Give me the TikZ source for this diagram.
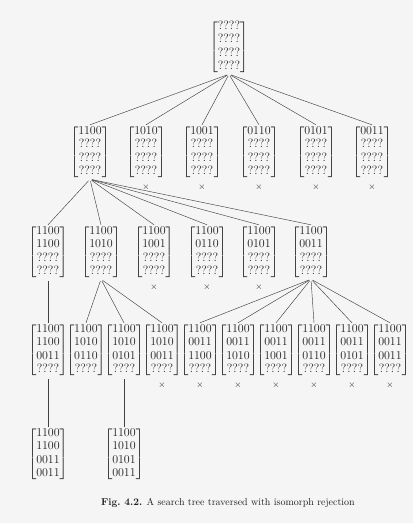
\documentclass[tikz,border=0pt]{standalone}
\usepackage{amsmath}
\usepackage{tikz}
\usetikzlibrary{positioning}
\colorlet{ink}{black!88}
\colorlet{paper}{black!4}
\tikzset{
  mat/.style={inner sep=0pt, text=ink, font=\fontsize{12.5}{13.5}\selectfont},
  edge/.style={draw=ink!85, line width=0.45pt, shorten <=2pt},
  cut/.style={font=\small, text=ink, inner sep=0pt},
  caption/.style={font=\fontsize{10}{12}\selectfont, text=ink}
}
% a 4x4 partial incidence matrix
\newcommand{\Mat}[4]{$\begin{bmatrix}#1\\#2\\#3\\#4\end{bmatrix}$}
\newcommand{\Q}{????}

\begin{document}
\begin{tikzpicture}[x=1pt,y=-1pt]
  \fill[paper] (0,0) rectangle (413,523);
  \useasboundingbox (0,0) rectangle (413,523);

  % root
  \node[mat] (r) at (229,47) {\Mat{\Q}{\Q}{\Q}{\Q}};

  % first rows
  \node[mat] (a1) at (90,152)  {\Mat{1100}{\Q}{\Q}{\Q}};
  \node[mat] (a2) at (146,152) {\Mat{1010}{\Q}{\Q}{\Q}};
  \node[mat] (a3) at (202,152) {\Mat{1001}{\Q}{\Q}{\Q}};
  \node[mat] (a4) at (259,152) {\Mat{0110}{\Q}{\Q}{\Q}};
  \node[mat] (a5) at (316,152) {\Mat{0101}{\Q}{\Q}{\Q}};
  \node[mat] (a6) at (372,152) {\Mat{0011}{\Q}{\Q}{\Q}};
  \node[cut, below=5pt of a2] (x2) {$\times$};
  \node[cut, below=5pt of a3] (x3) {$\times$};
  \node[cut, below=5pt of a4] (x4) {$\times$};
  \node[cut, below=5pt of a5] (x5) {$\times$};
  \node[cut, below=5pt of a6] (x6) {$\times$};

  % second rows
  \node[mat] (b1) at (48,252)  {\Mat{1100}{1100}{\Q}{\Q}};
  \node[mat] (b2) at (101,252) {\Mat{1100}{1010}{\Q}{\Q}};
  \node[mat] (b3) at (154,252) {\Mat{1100}{1001}{\Q}{\Q}};
  \node[mat] (b4) at (207,252) {\Mat{1100}{0110}{\Q}{\Q}};
  \node[mat] (b5) at (259,252) {\Mat{1100}{0101}{\Q}{\Q}};
  \node[mat] (b6) at (311,252) {\Mat{1100}{0011}{\Q}{\Q}};
  \node[cut, below=5pt of b3] (y3) {$\times$};
  \node[cut, below=5pt of b4] (y4) {$\times$};
  \node[cut, below=5pt of b5] (y5) {$\times$};

  % third rows
  \node[mat] (c1)  at (48,350)  {\Mat{1100}{1100}{0011}{\Q}};
  \node[mat] (c2)  at (86,350)  {\Mat{1100}{1010}{0110}{\Q}};
  \node[mat] (c3)  at (124,350) {\Mat{1100}{1010}{0101}{\Q}};
  \node[mat] (c4)  at (162,350) {\Mat{1100}{1010}{0011}{\Q}};
  \node[mat] (c5)  at (200,350) {\Mat{1100}{0011}{1100}{\Q}};
  \node[mat] (c6)  at (238,350) {\Mat{1100}{0011}{1010}{\Q}};
  \node[mat] (c7)  at (276,350) {\Mat{1100}{0011}{1001}{\Q}};
  \node[mat] (c8)  at (314,350) {\Mat{1100}{0011}{0110}{\Q}};
  \node[mat] (c9)  at (352,350) {\Mat{1100}{0011}{0101}{\Q}};
  \node[mat] (c10) at (390,350) {\Mat{1100}{0011}{0011}{\Q}};
  \node[cut, below=5pt of c4]  (z4)  {$\times$};
  \node[cut, below=5pt of c5]  (z5)  {$\times$};
  \node[cut, below=5pt of c6]  (z6)  {$\times$};
  \node[cut, below=5pt of c7]  (z7)  {$\times$};
  \node[cut, below=5pt of c8]  (z8)  {$\times$};
  \node[cut, below=5pt of c9]  (z9)  {$\times$};
  \node[cut, below=5pt of c10] (z10) {$\times$};

  % complete designs
  \node[mat] (d1) at (48,454)  {\Mat{1100}{1100}{0011}{0011}};
  \node[mat] (d2) at (124,454) {\Mat{1100}{1010}{0101}{0011}};

  \draw[edge] (r.south) -- (a1.north);
  \draw[edge] (r.south) -- (a2.north);
  \draw[edge] (r.south) -- (a3.north);
  \draw[edge] (r.south) -- (a4.north);
  \draw[edge] (r.south) -- (a5.north);
  \draw[edge] (r.south) -- (a6.north);

  \draw[edge] (a1.south) -- (b1.north);
  \draw[edge] (a1.south) -- (b2.north);
  \draw[edge] (a1.south) -- (b3.north);
  \draw[edge] (a1.south) -- (b4.north);
  \draw[edge] (a1.south) -- (b5.north);
  \draw[edge] (a1.south) -- (b6.north);

  \draw[edge] (b1.south) -- (c1.north);
  \draw[edge] (b2.south) -- (c2.north);
  \draw[edge] (b2.south) -- (c3.north);
  \draw[edge] (b2.south) -- (c4.north);
  \draw[edge] (b6.south) -- (c5.north);
  \draw[edge] (b6.south) -- (c6.north);
  \draw[edge] (b6.south) -- (c7.north);
  \draw[edge] (b6.south) -- (c8.north);
  \draw[edge] (b6.south) -- (c9.north);
  \draw[edge] (b6.south) -- (c10.north);

  \draw[edge] (c1.south) -- (d1.north);
  \draw[edge] (c3.south) -- (d2.north);

  \node[caption] (cap) at (228,503) {\textbf{Fig.\ 4.2.} A search tree traversed with isomorph rejection};
\end{tikzpicture}
\end{document}
